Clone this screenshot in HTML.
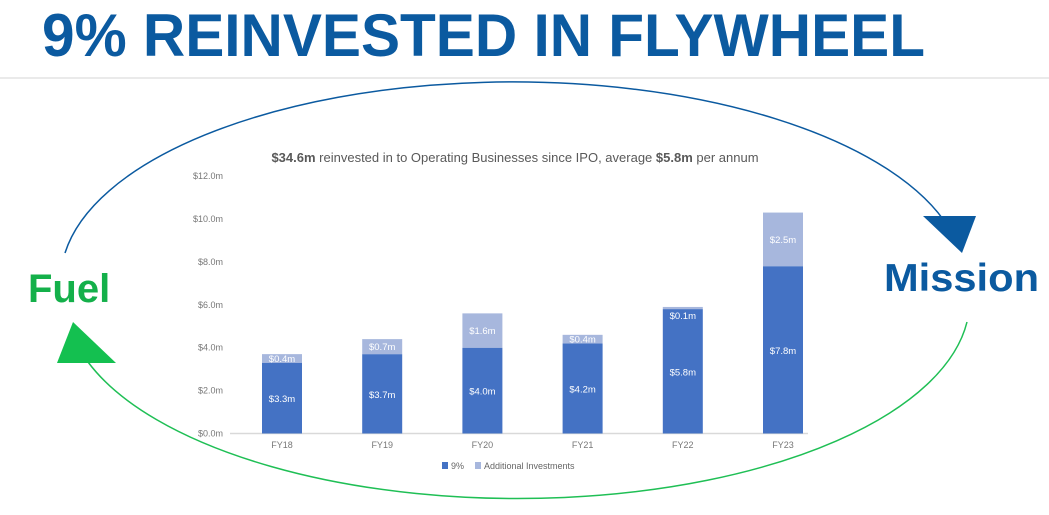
<!DOCTYPE html>
<html><head><meta charset="utf-8"><style>
html,body{margin:0;padding:0;background:#fff;}
svg{display:block;font-family:"Liberation Sans",sans-serif;}
</style></head><body>
<svg width="1049" height="515" viewBox="0 0 1049 515">
<text x="42" y="56" font-size="60" font-weight="bold" fill="#0b5aa0" textLength="883" lengthAdjust="spacingAndGlyphs">9% REINVESTED IN FLYWHEEL</text>
<line x1="0" y1="78" x2="1049" y2="78" stroke="#e4e4e4" stroke-width="1.5"/>
<path d="M65,253 A452,198 0 0 1 949,228" fill="none" stroke="#0b5aa0" stroke-width="1.5"/>
<polygon points="923,216 976,216 962,253" fill="#0b5aa0"/>
<path d="M967,322 A452,198 0 0 1 88,362" fill="none" stroke="#1fbf55" stroke-width="1.5"/>
<polygon points="73,322 57,363 116,363" fill="#14c050"/>
<text x="28" y="302" font-size="40" font-weight="bold" fill="#14b04a">Fuel</text>
<text x="884" y="291" font-size="39" font-weight="bold" fill="#0b5aa0" textLength="155" lengthAdjust="spacingAndGlyphs">Mission</text>
<text x="515" y="162" font-size="13" fill="#595959" text-anchor="middle"><tspan font-weight="bold">$34.6m</tspan> reinvested in to Operating Businesses since IPO, average <tspan font-weight="bold">$5.8m</tspan> per annum</text>
<g id="chart"></g>
<g>
<rect x="442" y="462" width="6" height="7" fill="#4472c4"/>
<text x="451" y="469" font-size="9" fill="#666">9%</text>
<rect x="475" y="462" width="6" height="7" fill="#a7b7dd"/>
<text x="484" y="469" font-size="9" fill="#666">Additional Investments</text>
</g>
</svg>
<script>
const categories=["FY18","FY19","FY20","FY21","FY22","FY23"];
const base=[3.3,3.7,4.0,4.2,5.8,7.8];
const extra=[0.4,0.7,1.6,0.4,0.1,2.5];
const baseLabels=["$3.3m","$3.7m","$4.0m","$4.2m","$5.8m","$7.8m"];
const extraLabels=["$0.4m","$0.7m","$1.6m","$0.4m","$0.1m","$2.5m"];
const ticks=[0,2,4,6,8,10,12];
const tickLabels=["$0.0m","$2.0m","$4.0m","$6.0m","$8.0m","$10.0m","$12.0m"];
const NS="http://www.w3.org/2000/svg";
const g=document.getElementById('chart');
function y(v){return 433.5-v*21.45;}
function x(i){return 282+i*100.2;}
function mk(t,a){const e=document.createElementNS(NS,t);for(const k in a)e.setAttribute(k,a[k]);g.appendChild(e);return e;}
ticks.forEach((t,i)=>{
 const e=mk('text',{x:223,y:y(t)+3,'font-size':9,fill:'#777','text-anchor':'end'});
 e.textContent=tickLabels[i];
 
 
});
const ax=mk('line',{x1:230,y1:y(0),x2:808,y2:y(0),stroke:'#d9d9d9','stroke-width':1.5});


categories.forEach((c,i)=>{
 const w=40,cx=x(i);
 const b=mk('rect',{x:cx-w/2,y:y(base[i]),width:w,height:y(0)-y(base[i]),fill:'#4472c4'});
 
 
 const a=mk('rect',{x:cx-w/2,y:y(base[i]+extra[i]),width:w,height:y(base[i])-y(base[i]+extra[i]),fill:'#a7b7dd'});
 
 
 const l1=mk('text',{x:cx,y:(y(0)+y(base[i]))/2+4,'font-size':9.5,fill:'#fff','text-anchor':'middle'});
 l1.textContent=baseLabels[i];
 
 
 let ly=(y(base[i])+y(base[i]+extra[i]))/2+3.5;
 if(extra[i]<0.3) ly=y(base[i])+10;
 const l2=mk('text',{x:cx,y:ly,'font-size':9.5,fill:'#fff','text-anchor':'middle'});
 l2.textContent=extraLabels[i];
 
 
 const xl=mk('text',{x:cx,y:448,'font-size':9,fill:'#777','text-anchor':'middle'});
 xl.textContent=c;
 
 
});
</script>
</body></html>
